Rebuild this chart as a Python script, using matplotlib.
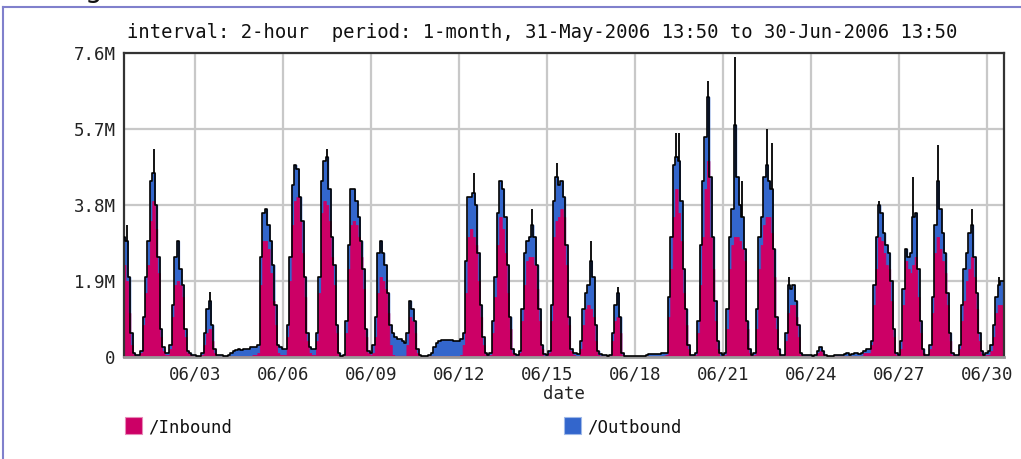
import numpy as np
import matplotlib
matplotlib.use("Agg")
import matplotlib.pyplot as plt
from matplotlib.lines import Line2D
from matplotlib.patches import Rectangle

# ---------------- data (values in millions, 2-hour samples) ----------------
# first sample: 31-May 14:00, last: 30-Jun 14:00
inbound = [
    2.3, 1.9, 1.1, 0.3, 0.05,                                              # 05/31 14-22h
    0.03, 0.03, 0.1, 0.8, 1.6, 2.3, 3.4, 3.9, 3.2, 2.1, 0.5, 0.15,        # 06/01
    0.05, 0.05, 0.2, 1.0, 1.8, 1.9, 1.8, 1.5, 0.5, 0.1, 0.05, 0.03,       # 06/02
    0.01, 0.01, 0.01, 0.05, 0.3, 0.6, 0.7, 0.4, 0.1, 0.01, 0.01, 0.01,    # 06/03
    0.01, 0.01, 0.01, 0.01, 0.02, 0.02, 0.02, 0.02, 0.02, 0.02, 0.02, 0.02,  # 06/04
    0.05, 0.05, 0.1, 1.8, 2.9, 2.9, 2.7, 2.1, 1.4, 0.8, 0.1, 0.05,        # 06/05
    0.05, 0.05, 0.5, 1.9, 3.3, 3.9, 4.0, 3.4, 2.6, 1.5, 0.4, 0.1,         # 06/06
    0.05, 0.05, 0.4, 1.6, 3.6, 3.9, 3.8, 3.4, 2.5, 1.8, 0.6, 0.05,        # 06/07
    0.02, 0.03, 0.6, 2.2, 3.3, 3.4, 3.3, 3.0, 2.5, 1.7, 0.5, 0.1,         # 06/08
    0.05, 0.1, 0.5, 1.6, 2.0, 1.9, 1.7, 1.1, 0.3, 0.05, 0.03, 0.03,       # 06/09
    0.03, 0.03, 0.03, 0.3, 1.0, 0.9, 0.6, 0.1, 0.02, 0.01, 0.01, 0.01,    # 06/10
    0.02, 0.02, 0.02, 0.02, 0.02, 0.02, 0.02, 0.02, 0.02, 0.02, 0.02, 0.02,  # 06/11
    0.02, 0.05, 0.3, 1.6, 3.0, 3.2, 3.0, 2.8, 1.9, 1.0, 0.3, 0.05,        # 06/12
    0.02, 0.05, 0.6, 1.5, 2.8, 3.5, 3.2, 2.6, 1.6, 0.7, 0.1, 0.03,        # 06/13
    0.03, 0.1, 0.9, 1.8, 2.4, 2.5, 2.5, 2.3, 1.7, 0.9, 0.2, 0.03,         # 06/14
    0.03, 0.1, 0.9, 3.0, 3.4, 3.5, 3.7, 3.5, 2.3, 0.8, 0.15, 0.05,        # 06/15
    0.02, 0.02, 0.2, 0.8, 1.2, 1.3, 1.2, 1.0, 0.4, 0.05, 0.03, 0.02,      # 06/16
    0.02, 0.02, 0.03, 0.4, 0.9, 1.0, 0.6, 0.05, 0.01, 0.01, 0.01, 0.01,   # 06/17
    0.01, 0.01, 0.01, 0.01, 0.01, 0.01, 0.01, 0.01, 0.01, 0.01, 0.01, 0.01,  # 06/18
    0.03, 0.05, 1.0, 2.2, 3.5, 4.2, 3.6, 2.9, 1.6, 0.8, 0.2, 0.03,        # 06/19
    0.02, 0.05, 0.6, 1.8, 3.0, 4.2, 4.9, 3.0, 2.2, 0.9, 0.2, 0.03,        # 06/20
    0.02, 0.05, 0.7, 2.2, 2.8, 3.0, 3.0, 2.9, 2.7, 2.4, 0.7, 0.1,         # 06/21
    0.03, 0.05, 0.7, 2.2, 2.8, 3.3, 3.5, 3.5, 3.1, 2.0, 0.7, 0.1,         # 06/22
    0.02, 0.02, 0.4, 1.1, 1.3, 1.3, 1.0, 0.5, 0.05, 0.02, 0.02, 0.02,     # 06/23
    0.01, 0.01, 0.01, 0.1, 0.15, 0.08, 0.02, 0.01, 0.01, 0.01, 0.02, 0.02,  # 06/24
    0.02, 0.02, 0.02, 0.02, 0.02, 0.02, 0.02, 0.02, 0.02, 0.03, 0.1, 0.1,   # 06/25
    0.1, 0.3, 1.3, 2.2, 3.0, 2.9, 2.6, 2.3, 2.2, 1.4, 0.5, 0.05,          # 06/26
    0.03, 0.2, 1.3, 2.4, 2.2, 2.1, 2.3, 2.5, 1.5, 0.6, 0.1, 0.03,         # 06/27
    0.02, 0.2, 1.1, 2.6, 3.0, 2.7, 2.4, 2.1, 1.3, 0.4, 0.05, 0.02,        # 06/28
    0.02, 0.2, 0.9, 1.4, 1.9, 2.2, 2.5, 2.0, 1.2, 0.4, 0.08, 0.02,        # 06/29
    0.05, 0.05, 0.15, 0.5, 1.1, 1.3, 1.3, 1.3,                            # 06/30 0-14h
]

# top of the stacked area (inbound + outbound)
stack_top = [
    3.0, 2.9, 2.0, 0.6, 0.1,
    0.05, 0.05, 0.15, 1.0, 2.0, 2.9, 4.4, 4.6, 3.8, 2.5, 0.7, 0.25,
    0.1, 0.1, 0.3, 1.3, 2.5, 2.9, 2.2, 1.8, 0.7, 0.15, 0.1, 0.05,
    0.05, 0.03, 0.02, 0.1, 0.6, 1.2, 1.4, 0.8, 0.2, 0.05, 0.05, 0.05,
    0.03, 0.03, 0.05, 0.1, 0.15, 0.17, 0.2, 0.18, 0.2, 0.2, 0.2, 0.25,
    0.25, 0.25, 0.3, 2.5, 3.6, 3.7, 3.3, 2.9, 2.3, 1.3, 0.3, 0.25,
    0.2, 0.2, 0.8, 2.5, 4.3, 4.8, 4.7, 4.0, 3.4, 2.0, 0.6, 0.25,
    0.2, 0.2, 0.6, 2.0, 4.4, 4.9, 5.0, 4.2, 3.0, 2.3, 0.8, 0.1,
    0.03, 0.05, 0.9, 2.8, 4.2, 4.2, 3.9, 3.5, 2.9, 2.2, 0.7, 0.15,
    0.1, 0.3, 1.0, 2.6, 2.9, 2.6, 2.3, 1.6, 0.8, 0.6, 0.5, 0.45,
    0.45, 0.4, 0.35, 0.6, 1.4, 1.2, 0.9, 0.2, 0.05, 0.03, 0.03, 0.03,
    0.05, 0.1, 0.25, 0.35, 0.4, 0.42, 0.43, 0.43, 0.43, 0.42, 0.4, 0.4,
    0.4, 0.45, 0.6, 2.4, 4.0, 4.0, 4.1, 3.8, 2.6, 1.3, 0.5, 0.1,
    0.05, 0.1, 0.9, 2.0, 3.6, 4.4, 4.2, 3.5, 2.3, 1.0, 0.2, 0.08,
    0.06, 0.15, 1.2, 2.6, 2.9, 3.0, 3.3, 3.0, 2.3, 1.2, 0.3, 0.08,
    0.05, 0.15, 1.3, 3.9, 4.5, 4.3, 4.4, 4.0, 2.8, 1.0, 0.2, 0.1,
    0.1, 0.08, 0.4, 1.2, 1.6, 1.8, 2.4, 2.0, 0.8, 0.15, 0.08, 0.05,
    0.05, 0.03, 0.05, 0.6, 1.3, 1.6, 1.0, 0.1, 0.03, 0.02, 0.02, 0.02,
    0.02, 0.02, 0.02, 0.02, 0.03, 0.05, 0.08, 0.08, 0.08, 0.08, 0.08, 0.1,
    0.1, 0.1, 1.5, 3.0, 4.8, 5.0, 4.9, 3.9, 2.2, 1.2, 0.3, 0.05,
    0.05, 0.1, 0.9, 2.8, 4.4, 5.5, 6.5, 4.5, 3.0, 1.4, 0.4, 0.1,
    0.05, 0.1, 1.2, 3.0, 3.7, 5.8, 4.5, 3.8, 3.5, 2.7, 0.9, 0.2,
    0.05, 0.1, 1.2, 3.0, 3.5, 4.5, 4.8, 4.4, 4.2, 2.7, 1.0, 0.2,
    0.05, 0.05, 0.6, 1.8, 1.7, 1.8, 1.4, 0.8, 0.1, 0.05, 0.05, 0.05,
    0.05, 0.03, 0.05, 0.15, 0.25, 0.15, 0.05, 0.03, 0.02, 0.03, 0.05, 0.05,
    0.05, 0.05, 0.08, 0.1, 0.06, 0.08, 0.1, 0.1, 0.08, 0.1, 0.15, 0.2,
    0.2, 0.4, 1.8, 3.0, 3.8, 3.6, 3.1, 2.8, 2.6, 1.9, 0.7, 0.1,
    0.05, 0.4, 1.7, 2.7, 2.5, 2.6, 3.5, 3.6, 2.2, 0.9, 0.2, 0.05,
    0.05, 0.3, 1.5, 3.3, 4.4, 3.7, 3.1, 2.6, 1.6, 0.6, 0.1, 0.05,
    0.05, 0.3, 1.3, 2.2, 2.6, 3.1, 3.3, 2.5, 1.6, 0.6, 0.15, 0.05,
    0.1, 0.15, 0.3, 0.8, 1.5, 1.8, 1.9, 1.9,
]

# short peaks of the black outline that reach above the stacked area
spike_day = [31.0, 1, 3, 7, 12, 14, 15, 16, 17, 19, 19, 20, 21, 21, 22, 22, 23, 26, 27, 28, 29, 30]
spike_month = [5, 6, 6, 6, 6, 6, 6, 6, 6, 6, 6, 6, 6, 6, 6, 6, 6, 6, 6, 6, 6, 6]
spike_hour = [16, 14, 12, 12, 12, 12, 8, 12, 10, 10, 12, 12, 10, 16, 12, 16, 6, 8, 12, 8, 12, 10]
spike_value = [3.3, 5.2, 1.63, 5.2, 4.6, 3.7, 4.85, 2.9, 1.75, 5.6, 5.6, 6.9, 7.5, 4.4, 5.7, 5.35, 2.0, 3.9, 4.5, 5.3, 3.7, 2.0]

y_ticks = [0, 1.9, 3.8, 5.7, 7.6]
y_ticklabels = ["0", "1.9M", "3.8M", "5.7M", "7.6M"]
x_ticks = [3, 6, 9, 12, 15, 18, 21, 24, 27, 30]
x_ticklabels = ["06/03", "06/06", "06/09", "06/12", "06/15", "06/18",
                "06/21", "06/24", "06/27", "06/30"]
series_names = ["/Inbound", "/Outbound"]
title_text = "interval: 2-hour  period: 1-month, 31-May-2006 13:50 to 30-Jun-2006 13:50"

# ---------------- derived arrays ----------------
inbound = np.array(inbound)
stack_top = np.array(stack_top)
outbound = np.clip(stack_top - inbound, 0, None)
t0 = 1 - 10 / 24.0          # 31-May 14:00 on a "day of June" axis
t = t0 + np.arange(len(inbound)) / 12.0

spike_x, spike_lo, spike_hi = [], [], []
for d, m, h, v in zip(spike_day, spike_month, spike_hour, spike_value):
    day = d - 31 if m == 5 else d
    idx = int(round((day + h / 24.0 - t0) * 12))
    if 0 <= idx < len(stack_top):
        spike_x.append(t[idx])
        spike_lo.append(stack_top[idx])
        spike_hi.append(v)

# ---------------- figure ----------------
W, H = 1021, 459
PINK = "#CC0066"
BLUE = "#3366CC"
FONT = "DejaVu Sans Mono"

fig = plt.figure(figsize=(W / 100, H / 100), dpi=100)
ax = fig.add_axes([124 / W, 1 - 357 / H, (1004 - 124) / W, (357 - 53) / H])

ax.fill_between(t, 0, inbound + outbound, step="mid", facecolor=BLUE,
                edgecolor=BLUE, lw=0.6, antialiased=False, zorder=2)
ax.fill_between(t, 0, inbound, step="mid", facecolor=PINK,
                edgecolor=PINK, lw=0.6, antialiased=False, zorder=2.1)
ax.step(t, inbound + outbound, where="mid", color="black", lw=1.2, zorder=3)
ax.vlines(spike_x, spike_lo, spike_hi, color="black", lw=1.3, zorder=3)

ax.set_xlim(0.576, 30.59)
ax.set_ylim(0, 7.6)
ax.set_xticks(x_ticks)
ax.set_xticklabels(x_ticklabels, fontfamily=FONT, fontsize=12.5)
ax.set_yticks(y_ticks)
ax.set_yticklabels(y_ticklabels, fontfamily=FONT, fontsize=12.5)
ax.tick_params(length=0, pad=6, colors="#222222")
ax.grid(True, color="#c8c8c8", lw=1.6, zorder=1)
ax.set_axisbelow(True)
for s in ax.spines.values():
    s.set_color("#333333")
    s.set_linewidth(1.6)
ax.spines["bottom"].set_color("#999999")
ax.spines["bottom"].set_linewidth(2.0)

ax.set_xlabel("date", fontfamily=FONT, fontsize=12.5, labelpad=1, color="#222222")

fig.text(127 / W, 1 - 33 / H, title_text, fontfamily=FONT, fontsize=13.6,
         ha="left", va="center", color="#111111")

# legend
fig.patches.append(Rectangle((125 / W, 1 - 434 / H), 17 / W, 17 / H,
                             transform=fig.transFigure, facecolor=PINK,
                             edgecolor="#e88ab8", lw=0.8))
fig.text(148 / W, 1 - 428 / H, series_names[0], fontfamily=FONT, fontsize=12.5,
         ha="left", va="center", color="#111111")
fig.patches.append(Rectangle((564 / W, 1 - 434 / H), 17 / W, 17 / H,
                             transform=fig.transFigure, facecolor=BLUE,
                             edgecolor="#9fb8e8", lw=0.8))
fig.text(587 / W, 1 - 428 / H, series_names[1], fontfamily=FONT, fontsize=12.5,
         ha="left", va="center", color="#111111")

# page frame pieces
fig.add_artist(Line2D([3 / W, 1], [1 - 7 / H, 1 - 7 / H], transform=fig.transFigure,
                      color="#8080cc", lw=1.5))
fig.add_artist(Line2D([3 / W, 3 / W], [0, 1 - 7 / H], transform=fig.transFigure,
                      color="#8080cc", lw=1.5))
fig.text(93 / W, 1 + 3 / H, "g", fontfamily="DejaVu Sans", fontsize=20,
         ha="center", va="baseline", color="#111111")

fig.savefig("out.png", dpi=100)
